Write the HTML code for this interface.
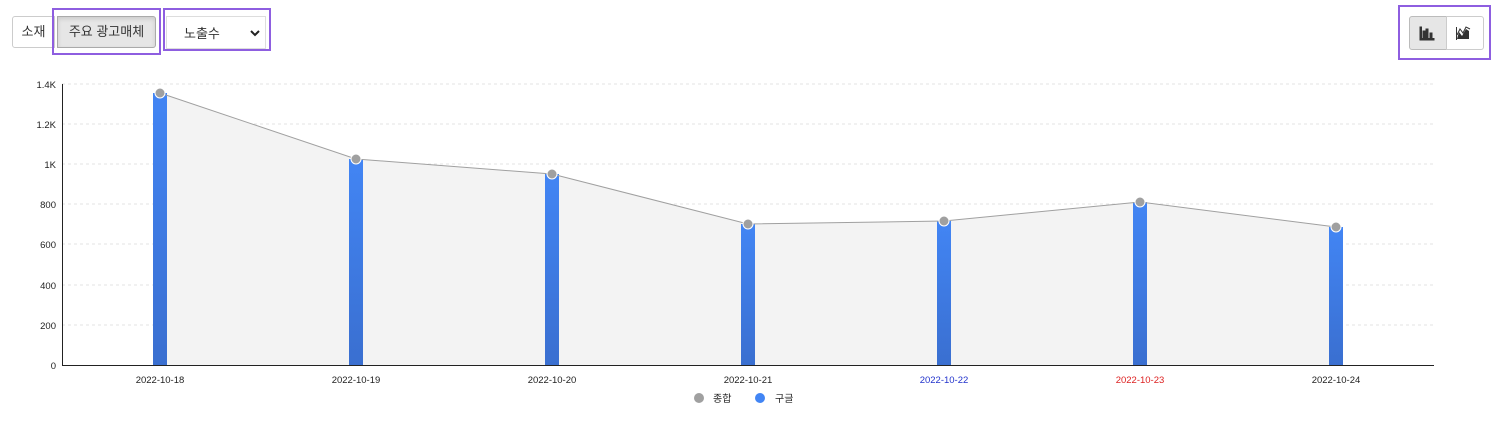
<!DOCTYPE html>
<html><head><meta charset="utf-8"><style>
body{margin:0;width:1494px;height:425px;background:#fff;font-family:"Liberation Sans","Noto Sans CJK KR",sans-serif;position:relative;overflow:hidden}
.a{position:absolute;box-sizing:border-box}
</style></head><body>
<div class="a" style="left:12px;top:16px;width:43px;height:32px;border:1px solid #ccc;border-radius:3px 0 0 3px;font-size:13px;color:#333;line-height:30px;text-align:center">소재</div>
<div class="a" style="left:57px;top:16px;width:99px;height:32px;border:1px solid #aaa;background:#e6e6e6;border-radius:0 3px 3px 0;font-size:13px;color:#333;line-height:30px;text-align:center;box-shadow:inset 0 2px 4px rgba(0,0,0,.12)">주요 광고매체</div>
<div class="a" style="left:52px;top:8px;width:109px;height:47px;border:2px solid #8e5ee0"></div>
<div class="a" style="left:166px;top:16px;width:100px;height:33px;border:1px solid #ddd;font-size:13px;color:#333;line-height:33px;padding-left:17px">노출수<svg style="position:absolute;right:5px;top:12px" width="10" height="8"><polyline points="1,2 5,6 9,2" fill="none" stroke="#222" stroke-width="2"/></svg></div>
<div class="a" style="left:163px;top:8px;width:108px;height:43px;border:2px solid #8e5ee0"></div>
<div class="a" style="left:1409px;top:16px;width:38px;height:34px;border:1px solid #bbb;background:#e6e6e6;border-radius:3px 0 0 3px"></div>
<div class="a" style="left:1446px;top:16px;width:38px;height:34px;border:1px solid #ccc;border-radius:0 3px 3px 0"></div>
<div class="a" style="left:1398px;top:5px;width:93px;height:55px;border:2px solid #8e5ee0"></div>
<svg class="a" style="left:0;top:0" width="1494" height="425">
<g stroke="#333" fill="#333"><rect x="1420" y="27" width="1.5" height="13"/><rect x="1420" y="38.5" width="14" height="1.5"/><rect x="1423" y="31" width="2" height="8"/><rect x="1426" y="29" width="2" height="10"/><rect x="1430" y="33" width="2" height="6"/>
<polygon points="1457,39 1459,32 1462,36 1466,29 1469,31 1469,39" stroke="none"/><polyline points="1457,35 1460,29 1463,33 1466,27 1470,29" fill="none" stroke-width="1"/><rect x="1456" y="27" width="1" height="13" stroke="none"/></g>
<g stroke="#e3e3e3" stroke-dasharray="3,3">
<line x1="62" x2="1434" y1="84" y2="84"/><line x1="62" x2="1434" y1="124" y2="124"/><line x1="62" x2="1434" y1="164" y2="164"/><line x1="62" x2="1434" y1="204" y2="204"/><line x1="62" x2="1434" y1="244" y2="244"/><line x1="62" x2="1434" y1="285" y2="285"/><line x1="62" x2="1434" y1="325" y2="325"/></g>
<g font-size="9.5" fill="#222" text-anchor="end">
<text x="56" y="88">1.4K</text><text x="56" y="128">1.2K</text><text x="56" y="168">1K</text><text x="56" y="208">800</text><text x="56" y="248">600</text><text x="56" y="289">400</text><text x="56" y="329">200</text><text x="56" y="369">0</text></g>
<polygon points="160,365 160,93 356,159 552,174 748,224 944,221 1140,202 1336,227 1336,365" fill="#f3f3f3"/>
<defs><linearGradient id="g" x1="0" y1="0" x2="0" y2="1"><stop offset="0" stop-color="#4285f4"/><stop offset="1" stop-color="#3a6fd0"/></linearGradient></defs>
<g fill="url(#g)"><rect x="153" y="93" width="14" height="272"/><rect x="349" y="159" width="14" height="206"/><rect x="545" y="174" width="14" height="191"/><rect x="741" y="224" width="14" height="141"/><rect x="937" y="221" width="14" height="144"/><rect x="1133" y="202" width="14" height="163"/><rect x="1329" y="227" width="14" height="138"/></g>
<polyline points="160,93 356,159 552,174 748,224 944,221 1140,202 1336,227" fill="none" stroke="#a0a0a0" stroke-width="1"/>
<g fill="#a0a0a0" stroke="#fff" stroke-width="1"><circle cx="160" cy="93" r="5"/><circle cx="356" cy="159" r="5"/><circle cx="552" cy="174" r="5"/><circle cx="748" cy="224" r="5"/><circle cx="944" cy="221" r="5"/><circle cx="1140" cy="202" r="5"/><circle cx="1336" cy="227" r="5"/></g>
<line x1="62.5" x2="62.5" y1="84" y2="365" stroke="#222"/><line x1="62" x2="1434" y1="365.5" y2="365.5" stroke="#222"/>
<g font-size="9.5" fill="#222" text-anchor="middle"><text x="160" y="383">2022-10-18</text><text x="356" y="383">2022-10-19</text><text x="552" y="383">2022-10-20</text><text x="748" y="383">2022-10-21</text><text x="944" y="383" fill="#2233cc">2022-10-22</text><text x="1140" y="383" fill="#dd2222">2022-10-23</text><text x="1336" y="383">2022-10-24</text></g>
<circle cx="699" cy="398" r="5" fill="#a0a0a0"/><text x="713" y="402" font-size="10" fill="#222">종합</text>
<circle cx="760" cy="398" r="5" fill="#4285f4"/><text x="775" y="402" font-size="10" fill="#222">구글</text>
</svg>
</body></html>
